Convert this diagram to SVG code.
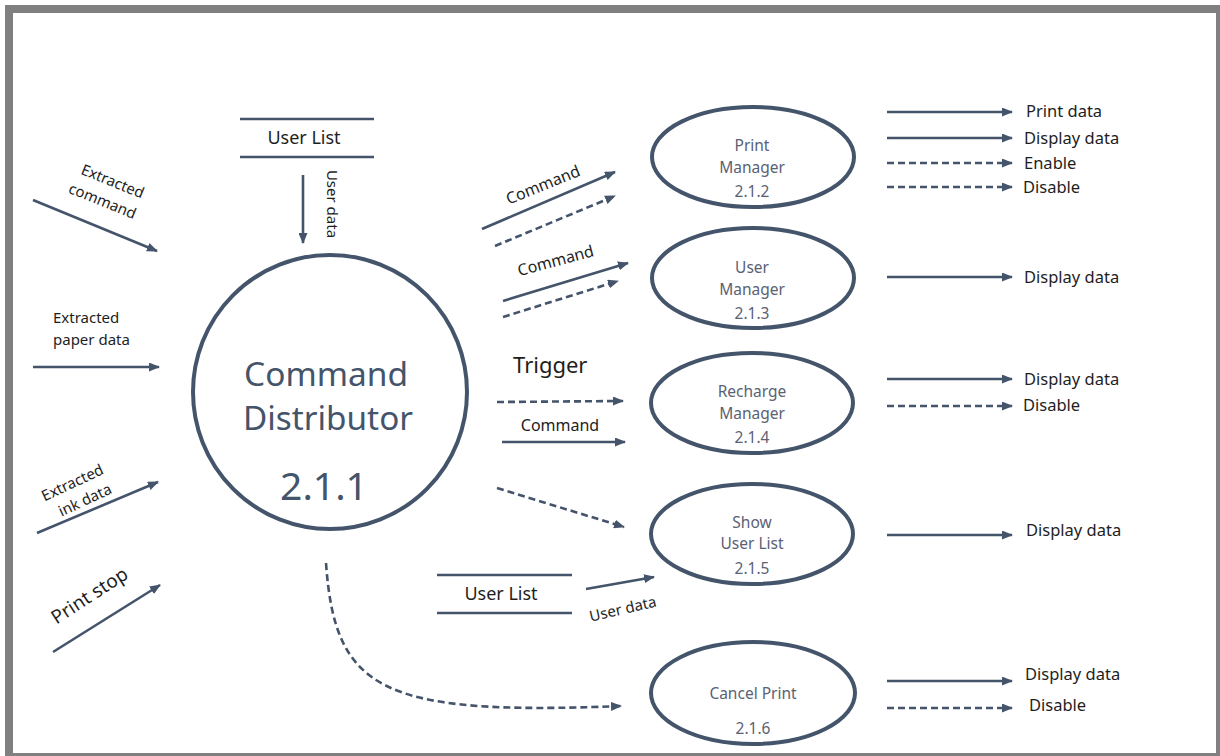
<svg xmlns="http://www.w3.org/2000/svg" width="1220" height="756" viewBox="0 0 1220 756">
<style>
.ln{stroke:#44546A;stroke-width:2.6;fill:none}
.ds{stroke:#44546A;stroke-width:2.6;fill:none;stroke-dasharray:7 4}
.nd{stroke:#44546A;stroke-width:4;fill:#fff}
.st{stroke:#44546A;stroke-width:2.6}
.lb{font-family:"Noto Sans","Open Sans",sans-serif;fill:#1e1e1e}
.nt{font-family:"Noto Sans","Open Sans",sans-serif;fill:#5a6274;font-size:15.5px;text-anchor:middle}
.big{font-family:"Noto Sans","Open Sans",sans-serif;fill:#44546A;text-anchor:middle}
</style>
<defs>
<marker id="ah" markerUnits="userSpaceOnUse" markerWidth="11" markerHeight="9" refX="10" refY="4.5" orient="auto">
<path d="M0,0 L11,4.5 L0,9 z" fill="#44546A"/>
</marker>
</defs>
<rect x="0" y="0" width="1220" height="756" fill="#fff"/>
<rect x="9" y="9" width="1211" height="748" fill="none" stroke="#808080" stroke-width="8"/>

<g id="connectors">
<!-- inputs -->
<line class="ln" x1="33" y1="200" x2="157" y2="251" marker-end="url(#ah)"/>
<line class="ln" x1="33" y1="367" x2="159" y2="367" marker-end="url(#ah)"/>
<line class="ln" x1="37" y1="533" x2="158" y2="482" marker-end="url(#ah)"/>
<line class="ln" x1="53" y1="652" x2="160" y2="585" marker-end="url(#ah)"/>
<line class="ln" x1="303" y1="175" x2="303" y2="243" marker-end="url(#ah)"/>
<!-- to Print Manager -->
<line class="ln" x1="482" y1="229" x2="615" y2="172" marker-end="url(#ah)"/>
<line class="ds" x1="495" y1="246" x2="615" y2="196" marker-end="url(#ah)"/>
<!-- to User Manager -->
<line class="ln" x1="503" y1="301" x2="628" y2="263" marker-end="url(#ah)"/>
<line class="ds" x1="503" y1="317" x2="618" y2="281" marker-end="url(#ah)"/>
<!-- to Recharge -->
<line class="ds" x1="497" y1="402" x2="623" y2="401" marker-end="url(#ah)"/>
<line class="ln" x1="502" y1="442" x2="625" y2="442" marker-end="url(#ah)"/>
<!-- to Show User List -->
<line class="ds" x1="497" y1="488" x2="624" y2="527" marker-end="url(#ah)"/>
<line class="ln" x1="586" y1="589" x2="654" y2="577" marker-end="url(#ah)"/>
<!-- to Cancel Print -->
<path class="ds" d="M326,563 C335,690 380,716 621,706" marker-end="url(#ah)"/>
<!-- outputs -->
<line class="ln" x1="887" y1="112" x2="1012" y2="112" marker-end="url(#ah)"/>
<line class="ln" x1="887" y1="138" x2="1012" y2="138" marker-end="url(#ah)"/>
<line class="ds" x1="887" y1="163" x2="1012" y2="163" marker-end="url(#ah)"/>
<line class="ds" x1="887" y1="187" x2="1012" y2="187" marker-end="url(#ah)"/>
<line class="ln" x1="887" y1="277" x2="1012" y2="277" marker-end="url(#ah)"/>
<line class="ln" x1="887" y1="379" x2="1012" y2="379" marker-end="url(#ah)"/>
<line class="ds" x1="887" y1="406" x2="1012" y2="406" marker-end="url(#ah)"/>
<line class="ln" x1="887" y1="535" x2="1012" y2="535" marker-end="url(#ah)"/>
<line class="ln" x1="887" y1="681" x2="1012" y2="681" marker-end="url(#ah)"/>
<line class="ds" x1="887" y1="708" x2="1012" y2="708" marker-end="url(#ah)"/>
</g>

<g id="connector-labels">
<g transform="translate(107,190) rotate(22)">
<text class="lb" font-size="15" text-anchor="middle" x="2" y="-5">Extracted</text>
<text class="lb" font-size="15" text-anchor="middle" x="0" y="17">command</text>
</g>
<text class="lb" font-size="15" x="53" y="323">Extracted</text>
<text class="lb" font-size="15" x="53" y="345">paper data</text>
<g transform="translate(79,492) rotate(-25)">
<text class="lb" font-size="15" text-anchor="middle" x="-2" y="-6">Extracted</text>
<text class="lb" font-size="15" text-anchor="middle" x="2" y="15">ink data</text>
</g>
<text class="lb" font-size="19" text-anchor="middle" transform="translate(93,601) rotate(-33)">Print stop</text>
<text class="lb" font-size="15" text-anchor="middle" transform="translate(327,204) rotate(90)">User data</text>
<text class="lb" font-size="16" text-anchor="middle" transform="translate(545,190) rotate(-22)">Command</text>
<text class="lb" font-size="16" text-anchor="middle" transform="translate(557,266) rotate(-15)">Command</text>
<text class="lb" font-size="22" x="513" y="373">Trigger</text>
<text class="lb" font-size="16" text-anchor="middle" x="560" y="431">Command</text>
<text class="lb" font-size="15" text-anchor="middle" transform="translate(624,614) rotate(-13)">User data</text>
<text class="lb" font-size="16.5" x="1026" y="117">Print data</text>
<text class="lb" font-size="16.5" x="1024" y="144">Display data</text>
<text class="lb" font-size="16.5" x="1024" y="169">Enable</text>
<text class="lb" font-size="16.5" x="1023" y="193">Disable</text>
<text class="lb" font-size="16.5" x="1024" y="283">Display data</text>
<text class="lb" font-size="16.5" x="1024" y="385">Display data</text>
<text class="lb" font-size="16.5" x="1023" y="411">Disable</text>
<text class="lb" font-size="16.5" x="1026" y="536">Display data</text>
<text class="lb" font-size="16.5" x="1025" y="680">Display data</text>
<text class="lb" font-size="16.5" x="1029" y="711">Disable</text>
</g>

<g id="store-userlist-top">
<line class="st" x1="240" y1="119" x2="374" y2="119"/>
<line class="st" x1="240" y1="157" x2="374" y2="157"/>
<text class="lb" font-size="18" text-anchor="middle" x="304" y="144">User List</text>
</g>

<g id="store-userlist-bottom">
<line class="st" x1="437" y1="575" x2="572" y2="575"/>
<line class="st" x1="437" y1="613" x2="572" y2="613"/>
<text class="lb" font-size="18" text-anchor="middle" x="501" y="600">User List</text>
</g>

<g id="node-2-1-1">
<circle class="nd" cx="330" cy="392" r="137"/>
<text class="big" font-size="32" x="326" y="386" textLength="164" lengthAdjust="spacingAndGlyphs">Command</text>
<text class="big" font-size="32" x="328" y="430" textLength="170" lengthAdjust="spacingAndGlyphs">Distributor</text>
<text class="big" font-size="39" x="324" y="500">2.1.1</text>
</g>

<g id="node-2-1-2">
<ellipse class="nd" cx="753" cy="157" rx="101" ry="50"/>
<text class="nt" x="752" y="151">Print</text>
<text class="nt" x="752" y="173">Manager</text>
<text class="nt" x="752" y="197">2.1.2</text>
</g>

<g id="node-2-1-3">
<ellipse class="nd" cx="753" cy="278" rx="101" ry="50"/>
<text class="nt" x="752" y="273">User</text>
<text class="nt" x="752" y="295">Manager</text>
<text class="nt" x="752" y="319">2.1.3</text>
</g>

<g id="node-2-1-4">
<ellipse class="nd" cx="752" cy="403" rx="101" ry="50"/>
<text class="nt" x="752" y="397">Recharge</text>
<text class="nt" x="752" y="419">Manager</text>
<text class="nt" x="752" y="443">2.1.4</text>
</g>

<g id="node-2-1-5">
<ellipse class="nd" cx="752" cy="534" rx="101" ry="50"/>
<text class="nt" x="752" y="528">Show</text>
<text class="nt" x="752" y="549">User List</text>
<text class="nt" x="752" y="574">2.1.5</text>
</g>

<g id="node-2-1-6">
<ellipse class="nd" cx="753" cy="693" rx="102" ry="51"/>
<text class="nt" x="753" y="699">Cancel Print</text>
<text class="nt" x="753" y="734">2.1.6</text>
</g>
</svg>
